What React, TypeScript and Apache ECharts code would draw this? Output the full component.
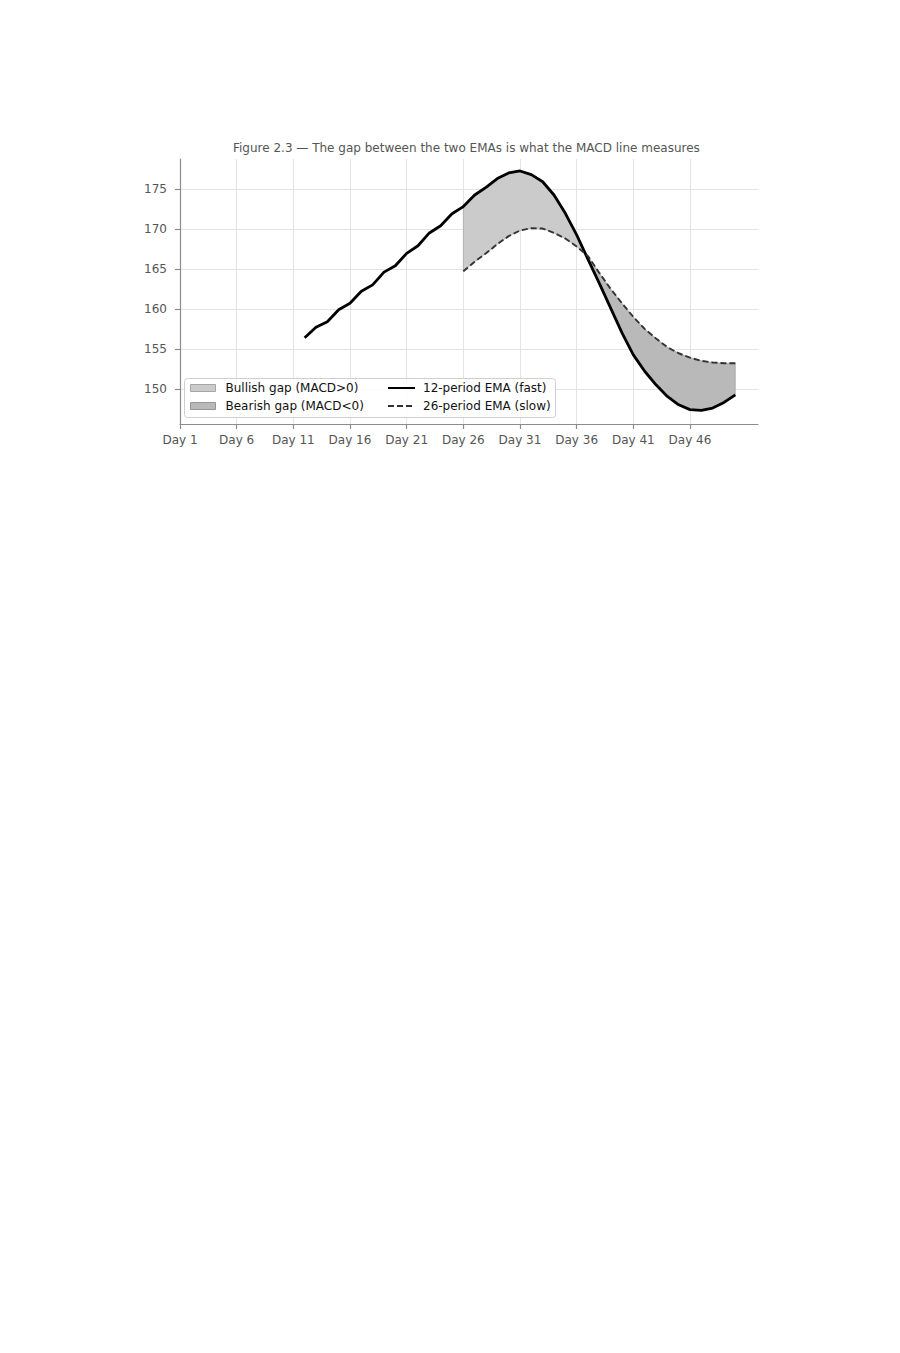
import React, { useEffect, useRef } from 'react';
import * as echarts from 'echarts';

// days are 1-based; x axis works on index = day - 1
const fastStartDay = 12;
const fastEma = [
  156.4, 157.7, 158.4, 159.9, 160.7, 162.2, 163.0, 164.6, 165.4, 166.95,
  167.9, 169.5, 170.4, 171.9, 172.8, 174.25, 175.2, 176.3, 177.0, 177.25,
  176.8, 175.9, 174.25, 171.95, 169.25, 166.2, 163.2, 160.1, 157.0, 154.25,
  152.2, 150.5, 149.05, 148.0, 147.4, 147.3, 147.6, 148.3, 149.25
];
const slowStartDay = 26;
const slowEma = [
  164.7, 165.9, 166.95, 168.1, 169.1, 169.8, 170.1, 170.05, 169.5, 168.8,
  167.8, 166.6, 164.5, 162.5, 160.7, 159.0, 157.5, 156.3, 155.2, 154.45,
  153.9, 153.5, 153.3, 153.2, 153.2
];
const xTickDays = [1, 6, 11, 16, 21, 26, 31, 36, 41, 46];
const yTicks = [150, 155, 160, 165, 170, 175];

const FONT = '"DejaVu Sans", Verdana, sans-serif';
const SPINE = '#8c8c8c';
const BULL = '#cbcbcb';
const BEAR = '#b9b9b9';

const fastAt = (d: number) => fastEma[d - fastStartDay];
const slowAt = (d: number) => slowEma[d - slowStartDay];

// split the area between the two EMAs into polygons of one sign each
function gapPolygons() {
  const lastDay = slowStartDay + slowEma.length - 1;
  const out: { sign: number; top: number[][]; bottom: number[][] }[] = [];
  let d = slowStartDay;
  let cur = {
    sign: Math.sign(fastAt(d) - slowAt(d)),
    top: [[d - 1, fastAt(d)]],
    bottom: [[d - 1, slowAt(d)]]
  };
  for (; d < lastDay; d++) {
    const a = fastAt(d) - slowAt(d);
    const b = fastAt(d + 1) - slowAt(d + 1);
    if (Math.sign(b) !== cur.sign && b !== 0) {
      const t = a / (a - b);
      const x = d - 1 + t;
      const y = fastAt(d) + t * (fastAt(d + 1) - fastAt(d));
      cur.top.push([x, y]);
      cur.bottom.push([x, y]);
      out.push(cur);
      cur = { sign: Math.sign(b), top: [[x, y]], bottom: [[x, y]] };
    }
    cur.top.push([d, fastAt(d + 1)]);
    cur.bottom.push([d, slowAt(d + 1)]);
  }
  out.push(cur);
  return out.map(p => ({ sign: p.sign, pts: [...p.top, ...p.bottom.slice().reverse()] }));
}

const App: React.FC = () => {
  const chartRef = useRef<HTMLDivElement>(null);

  useEffect(() => {
    if (!chartRef.current) return;
    const chart = echarts.init(chartRef.current, undefined, { renderer: 'svg' });

    const polys = gapPolygons();
    const bull = polys.filter(p => p.sign > 0);
    const bear = polys.filter(p => p.sign < 0);

    const gapSeries = (name: string, list: typeof polys, color: string) => ({
      name,
      type: 'custom',
      z: 2,
      itemStyle: { color },
      data: list.map((p, i) => [p.pts[0][0], i]),
      encode: { x: 0 },
      renderItem: (params: any, api: any) => {
        const p = list[params.dataIndex];
        return {
          type: 'polygon',
          shape: { points: p.pts.map(pt => api.coord(pt)) },
          style: { fill: color, stroke: 'rgba(110,110,110,0.45)', lineWidth: 0.8 }
        };
      }
    });

    // line legend entries: keep the stroke, hide the marker
    const hiddenMarker = { color: 'transparent', borderColor: 'transparent', borderWidth: 0 };

    const option: any = {
      animation: false,
      backgroundColor: '#fff',
      textStyle: { fontFamily: FONT },
      title: {
        text: 'Figure 2.3 \u2014 The gap between the two EMAs is what the MACD line measures',
        left: 233,
        top: 142,
        padding: 0,
        textStyle: { fontFamily: FONT, fontSize: 12, fontWeight: 'normal', color: '#555' }
      },
      grid: { left: 180, top: 159, width: 578, height: 265, containLabel: false },
      xAxis: {
        type: 'value',
        min: 0,
        max: 51,
        axisLine: { show: true, onZero: false, lineStyle: { color: SPINE, width: 1.2 } },
        axisTick: {
          show: true,
          length: 5,
          customValues: xTickDays.map(d => d - 1),
          lineStyle: { color: SPINE, width: 1.2 }
        },
        axisLabel: {
          customValues: xTickDays.map(d => d - 1),
          formatter: (v: number) => 'Day ' + (v + 1),
          color: '#555',
          fontSize: 12,
          fontFamily: FONT,
          margin: 10
        },
        splitLine: { show: false }
      },
      yAxis: {
        type: 'value',
        min: 145.6,
        max: 178.75,
        axisLine: { show: true, onZero: false, lineStyle: { color: SPINE, width: 1.2 } },
        axisTick: {
          show: true,
          length: 5,
          customValues: yTicks,
          lineStyle: { color: SPINE, width: 1.2 }
        },
        axisLabel: {
          customValues: yTicks,
          color: '#555',
          fontSize: 12,
          fontFamily: FONT,
          margin: 13
        },
        splitLine: { show: false }
      },
      legend: [
        {
          orient: 'vertical',
          left: 190,
          top: 381,
          padding: 0,
          itemGap: 4,
          itemWidth: 25,
          itemHeight: 7,
          textStyle: { fontFamily: FONT, fontSize: 12, color: '#111', lineHeight: 14, padding: [0, 0, 0, 5] },
          data: [
            { name: 'Bullish gap (MACD>0)', icon: 'rect', itemStyle: { color: BULL, borderColor: '#a6a6a6', borderWidth: 1 } },
            { name: 'Bearish gap (MACD<0)', icon: 'rect', itemStyle: { color: BEAR, borderColor: '#969696', borderWidth: 1 } }
          ]
        },
        {
          orient: 'vertical',
          left: 387,
          top: 381,
          padding: 0,
          itemGap: 4,
          itemWidth: 27,
          itemHeight: 7,
          textStyle: { fontFamily: FONT, fontSize: 12, color: '#111', lineHeight: 14, padding: [0, 0, 0, 3] },
          data: [
            { name: '12-period EMA (fast)', icon: 'inherit', itemStyle: hiddenMarker },
            { name: '26-period EMA (slow)', icon: 'inherit', itemStyle: hiddenMarker }
          ]
        }
      ],
      graphic: [
        {
          type: 'rect',
          z: 3,
          silent: true,
          shape: { x: 184.5, y: 378.5, width: 371, height: 39, r: 3 },
          style: { fill: 'rgba(255,255,255,0.85)', stroke: '#cfcfcf', lineWidth: 1 }
        }
      ],
      series: [
        {
          // grid lines only, drawn on the axes' scales
          name: 'grid',
          type: 'line',
          data: [],
          silent: true,
          markLine: {
            silent: true,
            symbol: 'none',
            z: 0,
            label: { show: false },
            lineStyle: { color: '#e3e3e3', width: 1, type: 'solid' },
            data: [
              ...xTickDays.map(d => ({ xAxis: d - 1 })),
              ...yTicks.map(v => ({ yAxis: v }))
            ]
          }
        },
        gapSeries('Bullish gap (MACD>0)', bull, BULL),
        gapSeries('Bearish gap (MACD<0)', bear, BEAR),
        {
          name: '12-period EMA (fast)',
          type: 'line',
          z: 4,
          symbol: 'none',
          data: fastEma.map((v, i) => [fastStartDay - 1 + i, v]),
          lineStyle: { color: '#000', width: 2.8 },
          itemStyle: { color: '#000' }
        },
        {
          name: '26-period EMA (slow)',
          type: 'line',
          z: 4,
          symbol: 'none',
          data: slowEma.map((v, i) => [slowStartDay - 1 + i, v]),
          lineStyle: { color: '#333', width: 1.9, type: [6, 3] },
          itemStyle: { color: '#333' }
        }
      ]
    };

    chart.setOption(option);
    return () => chart.dispose();
  }, []);

  return (
    <div style={{ position: 'absolute', left: 0, top: 0, width: 900, height: 1353, background: '#fff' }}>
      <div ref={chartRef} style={{ width: '100%', height: '100%' }} />
    </div>
  );
};

export default App;
